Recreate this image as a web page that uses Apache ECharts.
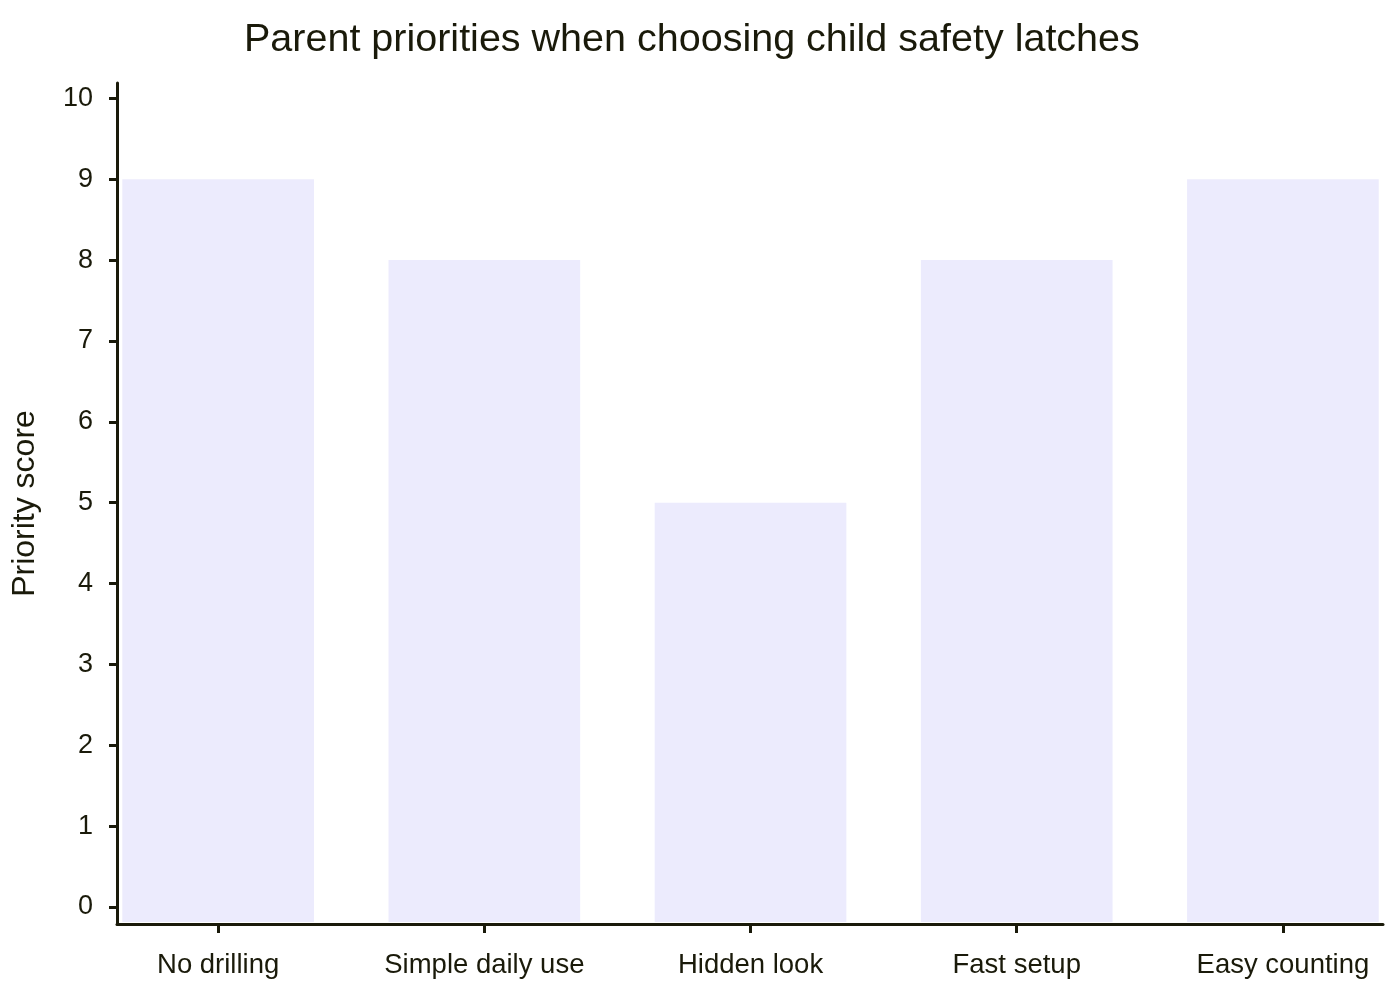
<!DOCTYPE html>
<html>
<head>
<meta charset="utf-8">
<script src="https://cdn.jsdelivr.net/npm/echarts@6/dist/echarts.min.js"></script>
<style>
  html, body { margin: 0; padding: 0; background: #fff; }
  #chart { width: 1400px; height: 1000px; }
</style>
</head>
<body>
<div id="chart"></div>
<script>
var categories = ['No drilling', 'Simple daily use', 'Hidden look', 'Fast setup', 'Easy counting'];
var scores = [9, 8, 5, 8, 9];
var yTicks = [0, 1, 2, 3, 4, 5, 6, 7, 8, 9, 10];
var xTicks = [0, 1, 2, 3, 4];

var Y_MIN = -0.21, Y_MAX = 10.19;
var X_MIN = -0.38, X_MAX = 4.376;
var BAR_WIDTH = 0.72;
var BAR_COLOR = '#ECEBFD';
var INK = '#1a1a0a';

// bars run from the bottom of the plot up to the score
function renderBar(params, api) {
  var top = api.coord([api.value(0), api.value(1)]);
  var base = api.coord([api.value(0), Y_MIN]);
  var w = api.size([BAR_WIDTH, 0])[0];
  return {
    type: 'rect',
    shape: { x: top[0] - w / 2, y: top[1], width: w, height: base[1] - top[1] - 2 },
    style: { fill: BAR_COLOR }
  };
}

var chart = echarts.init(document.getElementById('chart'));
chart.setOption({
  animation: false,
  title: {
    text: 'Parent priorities when choosing child safety latches',
    left: 239,
    top: 15,
    textStyle: { color: INK, fontSize: 39.5, fontWeight: 'normal', fontFamily: 'Liberation Sans' }
  },
  grid: { left: 117, right: 17, top: 83, bottom: 76, containLabel: false, outerBoundsMode: 'none' },
  xAxis: {
    type: 'value',
    min: X_MIN,
    max: X_MAX,
    z: 5,
    splitLine: { show: false },
    axisLine: { show: true, onZero: false, lineStyle: { color: INK, width: 3 } },
    axisTick: { show: true, customValues: xTicks, length: 9, lineStyle: { color: INK, width: 3 } },
    axisLabel: {
      customValues: xTicks,
      margin: 27,
      color: INK,
      fontSize: 27.5,
      fontFamily: 'Liberation Sans',
      formatter: function (v) { return categories[Math.round(v)]; }
    }
  },
  yAxis: {
    type: 'value',
    min: Y_MIN,
    max: Y_MAX,
    z: 5,
    name: 'Priority score',
    nameLocation: 'middle',
    nameGap: 76,
    nameTextStyle: { color: INK, fontSize: 32, fontFamily: 'Liberation Sans' },
    splitLine: { show: false },
    axisLine: { show: true, onZero: false, lineStyle: { color: INK, width: 3 } },
    axisTick: { show: true, customValues: yTicks, length: 8, lineStyle: { color: INK, width: 3 } },
    axisLabel: { customValues: yTicks, margin: 24, color: INK, fontSize: 27, fontFamily: 'Liberation Sans' }
  },
  series: [{
    type: 'custom',
    renderItem: renderBar,
    encode: { x: 0, y: 1 },
    data: scores.map(function (v, i) { return [i, v]; }),
    z: 1
  }]
});
</script>
</body>
</html>
